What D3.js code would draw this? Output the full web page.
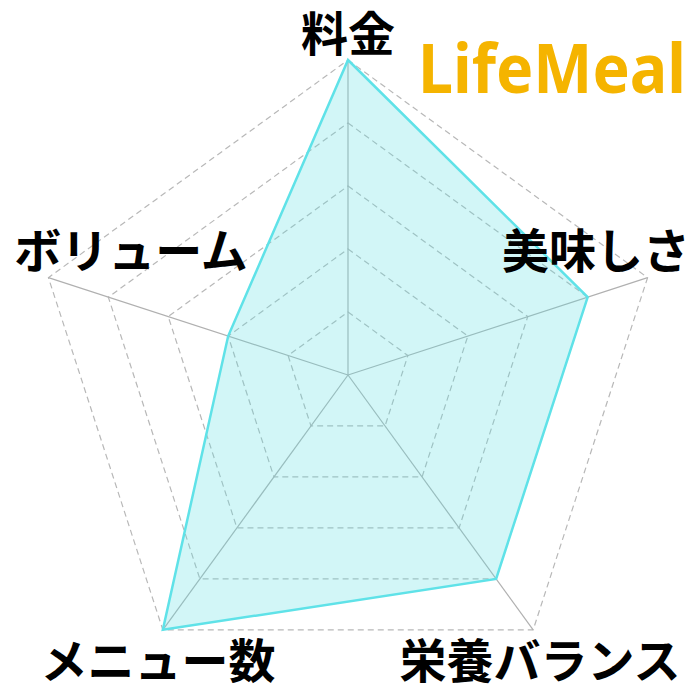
<!DOCTYPE html>
<html>
<head>
<meta charset="utf-8">
<script src="https://cdn.jsdelivr.net/npm/d3@7"></script>
<style>
  body { margin: 0; background: #fff; }
  svg { display: block; font-family: "Noto Sans CJK JP", "Noto Sans", sans-serif; }
</style>
</head>
<body>
<svg id="chart" width="700" height="700"></svg>
<script>
// chart data
const categories = ['料金', '美味しさ', '栄養バランス', 'メニュー数', 'ボリューム'];
const values = [5, 4, 4, 5, 2];
const levels = [1, 2, 3, 4, 5];

const svg = d3.select('#chart'),
  cx = 348,
  cy = 375,
  radius = 315;

const r = d3.scaleLinear().domain([0, 5]).range([0, radius]);
const angle = d3.scaleLinear().domain([0, categories.length]).range([0, 2 * Math.PI]);

const point = (i, v) => [
  cx + r(v) * Math.sin(angle(i)),
  cy - r(v) * Math.cos(angle(i))
];

const g = svg.append('g');

// dashed grid pentagons
const radial = d3.lineRadial()
  .angle((d, i) => angle(i))
  .radius(d => r(d))
  .curve(d3.curveLinearClosed);

g.selectAll('.grid')
  .data(levels)
  .enter()
  .append('path')
  .attr('class', 'grid')
  .attr('transform', `translate(${cx},${cy})`)
  .attr('d', lv => radial(categories.map(() => lv)))
  .attr('fill', 'none')
  .attr('stroke', '#b8b8b8')
  .attr('stroke-width', 1.2)
  .attr('stroke-dasharray', '6,4');

// axis spokes
g.selectAll('.spoke')
  .data(categories)
  .enter()
  .append('line')
  .attr('class', 'spoke')
  .attr('x1', cx)
  .attr('y1', cy)
  .attr('x2', (d, i) => point(i, 5)[0])
  .attr('y2', (d, i) => point(i, 5)[1])
  .attr('stroke', '#b0b0b0')
  .attr('stroke-width', 1.2);

// data polygon
g.append('path')
  .datum(values)
  .attr('transform', `translate(${cx},${cy})`)
  .attr('d', radial)
  .attr('fill', 'rgba(92, 222, 228, 0.28)')
  .attr('stroke', '#5fe2e8')
  .attr('stroke-width', 2.5)
  .attr('stroke-linejoin', 'miter');

// labels
const labelPos = [
  [348, 51], [596, 268], [540, 678], [158, 678], [131, 268]
];

svg.selectAll('.label')
  .data(categories)
  .enter()
  .append('text')
  .attr('class', 'label')
  .attr('x', (d, i) => labelPos[i][0])
  .attr('y', (d, i) => labelPos[i][1])
  .attr('text-anchor', 'middle')
  .attr('font-size', 47)
  .attr('font-weight', 'bold')
  .attr('fill', '#000')
  .text(d => d);

// logo
svg.append('text')
  .attr('x', 418)
  .attr('y', 93)
  .attr('font-family', '"Noto Sans", sans-serif')
  .attr('font-size', 68)
  .attr('font-weight', 'bold')
  .attr('fill', '#f5b400')
  .attr('textLength', 268)
  .attr('lengthAdjust', 'spacingAndGlyphs')
  .text('LifeMeal');
</script>
</body>
</html>
